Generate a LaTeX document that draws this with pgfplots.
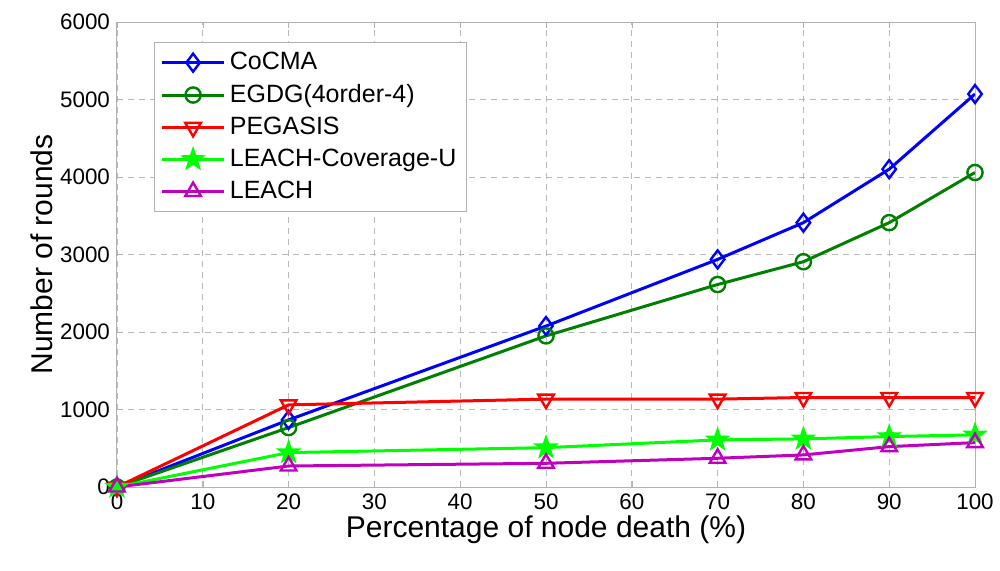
\documentclass[border=0pt]{standalone}
\usepackage{pgfplots}
\pgfplotsset{compat=1.18}
\usepackage{fontspec}
\setmainfont{Liberation Sans}
\definecolor{cblue}{rgb}{0,0,1}
\definecolor{cgreen}{rgb}{0,0.5,0}
\definecolor{cred}{rgb}{1,0,0}
\definecolor{clime}{rgb}{0,1,0}
\definecolor{cmag}{rgb}{0.75,0,0.75}
\pgfdeclareplotmark{fivestar}{%
  \pgfpathmoveto{\pgfqpointpolar{90}{\pgfplotmarksize}}%
  \pgfpathlineto{\pgfqpointpolar{126}{0.4\pgfplotmarksize}}%
  \pgfpathlineto{\pgfqpointpolar{162}{\pgfplotmarksize}}%
  \pgfpathlineto{\pgfqpointpolar{198}{0.4\pgfplotmarksize}}%
  \pgfpathlineto{\pgfqpointpolar{234}{\pgfplotmarksize}}%
  \pgfpathlineto{\pgfqpointpolar{270}{0.4\pgfplotmarksize}}%
  \pgfpathlineto{\pgfqpointpolar{306}{\pgfplotmarksize}}%
  \pgfpathlineto{\pgfqpointpolar{342}{0.4\pgfplotmarksize}}%
  \pgfpathlineto{\pgfqpointpolar{18}{\pgfplotmarksize}}%
  \pgfpathlineto{\pgfqpointpolar{54}{0.4\pgfplotmarksize}}%
  \pgfpathclose
  \pgfusepathqfillstroke}
\begin{document}
\begin{tikzpicture}
\path[use as bounding box] (-58.5pt,-41.5pt) rectangle (441.5pt,243.5pt);
\begin{axis}[
  at={(0,0)}, anchor=south west,
  scale only axis, width=429pt, height=232.5pt,
  xmin=0, xmax=100, ymin=0, ymax=6000,
  xtick={0,10,...,100}, ytick={0,1000,...,6000},
  /pgf/number format/1000 sep={},
  /pgf/number format/assume math mode=true,
  tick label style={font=\fontsize{11.2}{13}\selectfont},
  xlabel={Percentage of node death (\%)},
  ylabel={Number of rounds},
  label style={font=\fontsize{15}{17}\selectfont},
  xlabel style={yshift=4pt},
  ylabel style={yshift=-3pt},
  grid=major,
  major grid style={gray!55, dash pattern=on 3pt off 2.5pt, line width=0.4pt},
  axis line style={gray!60, line width=0.5pt},
  tick style={gray!60},
  tick align=inside,
  major tick length=3pt,
  legend style={at={(0.043,0.957)}, anchor=north west, draw=gray!60,
    font=\fontsize{12.5}{14.5}\selectfont, row sep=1.8pt, inner xsep=3pt, inner ysep=3pt},
  legend cell align=left,
  legend image code/.code={\draw[mark repeat=2,mark phase=2] plot coordinates {(0cm,0cm)(0.55cm,0cm)(1.1cm,0cm)};},
  every axis plot/.append style={line width=1.5pt},
]
\addplot[cblue, mark=diamond, mark size=4.5pt, mark options={solid, fill=none, line width=1.2pt}]
  coordinates {(0,0)(20,866)(50,2077)(70,2937)(80,3411)(90,4101)(100,5071)};
\addlegendentry{CoCMA}
\addplot[cgreen, mark=o, mark size=3.8pt, mark options={solid, fill=none, line width=1.2pt}]
  coordinates {(0,0)(20,767)(50,1950)(70,2613)(80,2907)(90,3411)(100,4058)};
\addlegendentry{EGDG(4order-4)}
\addplot[cred, mark=triangle, mark size=4.5pt, mark options={solid, fill=none, rotate=180, line width=1.2pt}]
  coordinates {(0,0)(20,1060)(50,1134)(70,1134)(80,1155)(90,1155)(100,1155)};
\addlegendentry{PEGASIS}
\addplot[clime, mark=fivestar, mark size=5.5pt, mark options={solid, fill=clime, line width=0.8pt}]
  coordinates {(0,0)(20,444)(50,508)(70,608)(80,621)(90,651)(100,673)};
\addlegendentry{LEACH-Coverage-U}
\addplot[cmag, mark=triangle, mark size=4.5pt, mark options={solid, fill=none, line width=1.2pt}]
  coordinates {(0,0)(20,271)(50,306)(70,371)(80,414)(90,521)(100,573)};
\addlegendentry{LEACH}
\end{axis}
\end{tikzpicture}
\end{document}
